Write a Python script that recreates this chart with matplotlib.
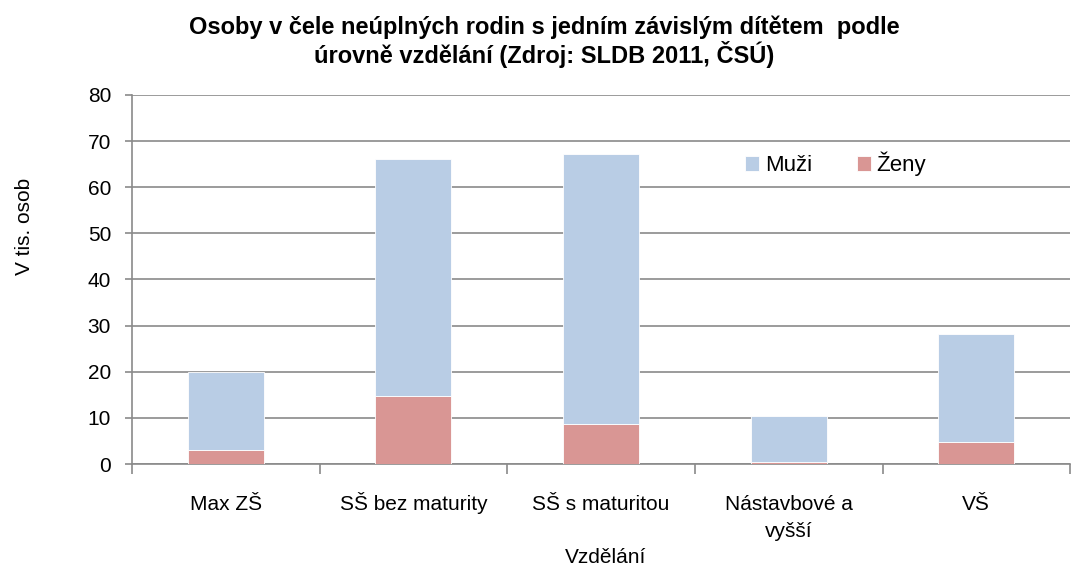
import matplotlib

matplotlib.use("Agg")
import matplotlib.pyplot as plt
from matplotlib.transforms import blended_transform_factory

plt.rcParams["font.family"] = ["Liberation Sans", "DejaVu Sans"]

kategorie = ["Max ZŠ", "SŠ bez maturity", "SŠ s maturitou", "Nástavbové a\nvyšší", "VŠ"]
zeny = [3.1, 14.8, 8.7, 0.5, 4.8]
muzi = [16.9, 51.4, 58.4, 9.9, 23.4]
y_ticks = [0, 10, 20, 30, 40, 50, 60, 70, 80]

SEDA = "#8a8a8a"

fig = plt.figure(figsize=(10.71, 5.72), dpi=100)
ax = fig.add_axes([0.1232, 0.1888, 0.876, 0.6452])

x = range(len(kategorie))
ax.bar(x, zeny, width=0.405, color="#D99694", edgecolor="white", linewidth=0.6,
       label="Ženy", zorder=3)
ax.bar(x, muzi, width=0.405, bottom=zeny, color="#B9CDE5", edgecolor="white",
       linewidth=0.6, label="Muži", zorder=3)

ax.set_xlim(-0.5, len(kategorie) - 0.5)
ax.set_ylim(0, 80)
ax.set_yticks(y_ticks)
ax.tick_params(axis="y", labelsize=15, length=5, color=SEDA, width=1.2, pad=10)
ax.yaxis.grid(True, color=SEDA, linewidth=1.2, zorder=0)

# popisky kategorií ručně (řádek po řádku, stejná účaří), značky na hranicích
ax.set_xticks([])
ax.set_xticks([i - 0.5 for i in range(len(kategorie) + 1)], minor=True)
ax.tick_params(axis="x", which="minor", length=7, color=SEDA, width=1.2,
               labelbottom=False)
tr = blended_transform_factory(ax.transData, fig.transFigure)
for i, k in enumerate(kategorie):
    for j, radek in enumerate(k.split("\n")):
        ax.text(i, 1 - (510 + 27 * j) / 572, radek, transform=tr, ha="center",
                va="baseline", fontsize=15)

for s in ["top", "right"]:
    ax.spines[s].set_visible(False)
for s in ["left", "bottom"]:
    ax.spines[s].set_color(SEDA)
    ax.spines[s].set_linewidth(1.2)

fig.text(0.565, 1 - 563 / 572, "Vzdělání", fontsize=15, ha="center", va="baseline")
fig.text(0.023, 0.605, "V tis. osob", rotation=90, fontsize=15, ha="center", va="center")

h, l = ax.get_legend_handles_labels()
ax.legend(h[::-1], l[::-1], loc="center", bbox_to_anchor=(0.75, 0.813), ncol=2,
          frameon=False, fontsize=16, handlelength=0.65, handleheight=0.65,
          handletextpad=0.25, columnspacing=2.0)

fig.text(0.508, 0.927,
         "Osoby v čele neúplných rodin s jedním závislým dítětem  podle\n"
         "úrovně vzdělání (Zdroj: SLDB 2011, ČSÚ)",
         fontsize=17, fontweight="bold", ha="center", va="center", linespacing=1.1)

fig.savefig("out.png", dpi=100)
